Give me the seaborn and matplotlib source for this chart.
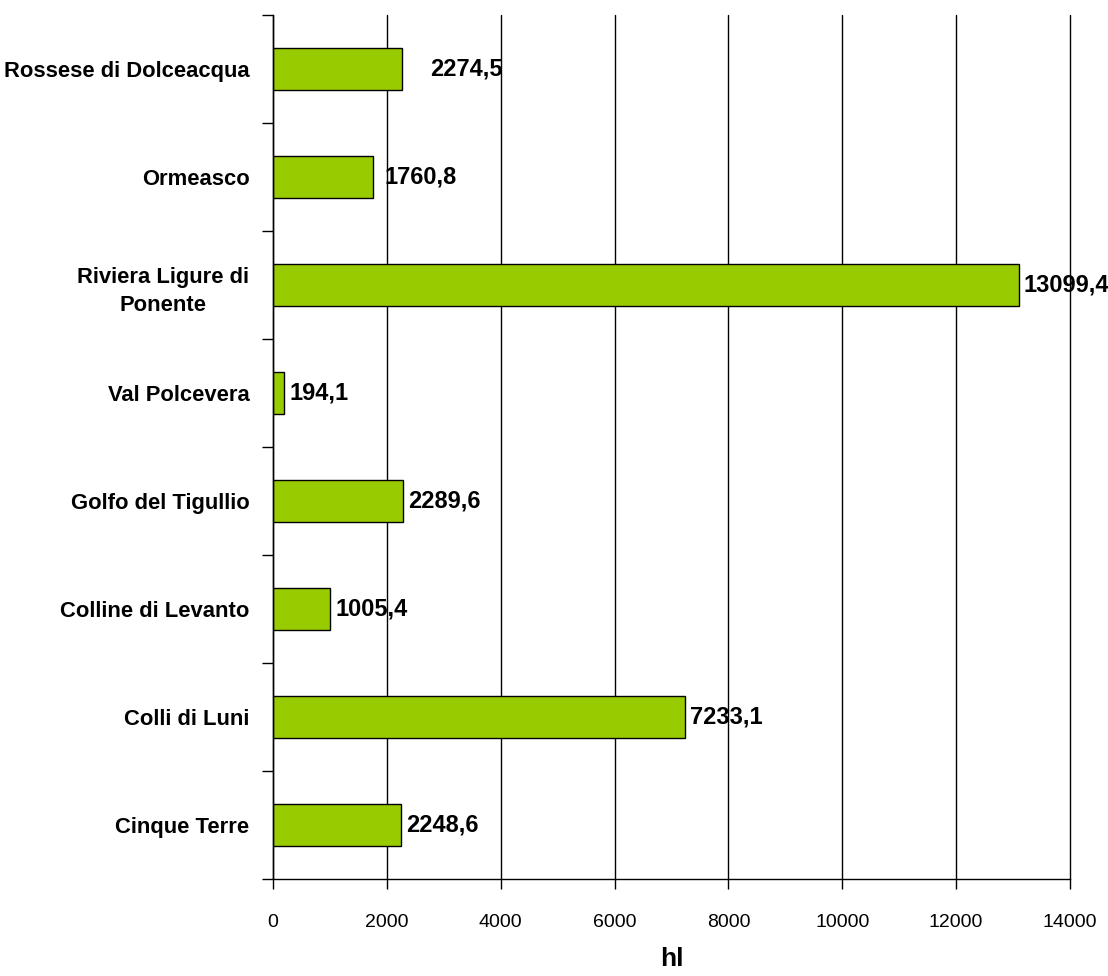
import matplotlib
matplotlib.use('Agg')
import matplotlib.pyplot as plt
import seaborn as sns
import pandas as pd
import numpy as np

# Data
categories = ['Rossese di Dolceacqua', 'Ormeasco', 'Riviera Ligure di\nPonente',
              'Val Polcevera', 'Golfo del Tigullio', 'Colline di Levanto',
              'Colli di Luni', 'Cinque Terre']
values = [2274.5, 1760.8, 13099.4, 194.1, 2289.6, 1005.4, 7233.1, 2248.6]
x_ticks = [0, 2000, 4000, 6000, 8000, 10000, 12000, 14000]
x_label = 'hl'

# label offsets in pixels (the original has a few labels pushed further right)
label_pad = [28, 11, 5, 5, 5, 5, 5, 5]

sns.set_style("white")
plt.rcParams['font.family'] = ['Liberation Sans Narrow', 'Liberation Sans', 'DejaVu Sans']
plt.rcParams['text.color'] = 'black'
plt.rcParams['xtick.color'] = 'black'
plt.rcParams['ytick.color'] = 'black'

df = pd.DataFrame({'category': categories, 'value': values})

fig = plt.figure(figsize=(11.08, 9.76), dpi=100)
ax = fig.add_axes([0.2464, 0.0994, 0.9657 - 0.2464, 0.9846 - 0.0994])

sns.barplot(data=df, x='value', y='category', orient='h', color='#99CC00',
            saturation=1, width=0.39, edgecolor='black', linewidth=1, ax=ax)

ax.set_xlim(0, 14000)
ax.set_ylim(len(categories) - 0.5, -0.5)
ax.set_xticks(x_ticks)
ax.set_xticklabels([str(t) for t in x_ticks], fontsize=14)
ax.tick_params(axis='x', bottom=True, length=7, width=1, color='black',
               pad=18, direction='out', labelcolor='black')

# category labels, separator ticks at boundaries
ax.tick_params(axis='y', which='major', left=True, length=0, pad=17,
               labelsize=15.8, labelcolor='black')
for lbl in ax.get_yticklabels():
    lbl.set_fontweight('bold')
    lbl.set_multialignment('center')
    lbl.set_linespacing(1.45)
ax.set_yticks(np.arange(-0.5, len(categories), 1), minor=True)
ax.tick_params(axis='y', which='minor', left=True, length=8, width=1,
               color='black', direction='out')
ax.set_ylabel('')

ax.set_xlabel(x_label, fontsize=19, fontweight='bold', labelpad=12, color='black')

# grid
ax.xaxis.grid(True, color='black', linewidth=1)
for gl in ax.get_xgridlines():
    gl.set_clip_on(False)
ax.set_axisbelow(True)
for s in ['top', 'right']:
    ax.spines[s].set_visible(False)
for s in ['left', 'bottom']:
    ax.spines[s].set_color('black')
    ax.spines[s].set_linewidth(1)

# value labels
for i, (v, p) in enumerate(zip(values, label_pad)):
    ax.annotate(f'{v:.1f}'.replace('.', ','), xy=(v, i), xytext=(p, 0),
                textcoords='offset pixels', va='center', ha='left',
                fontsize=17, fontweight='bold', color='black',
                annotation_clip=False)

fig.savefig('out.png', dpi=100)
